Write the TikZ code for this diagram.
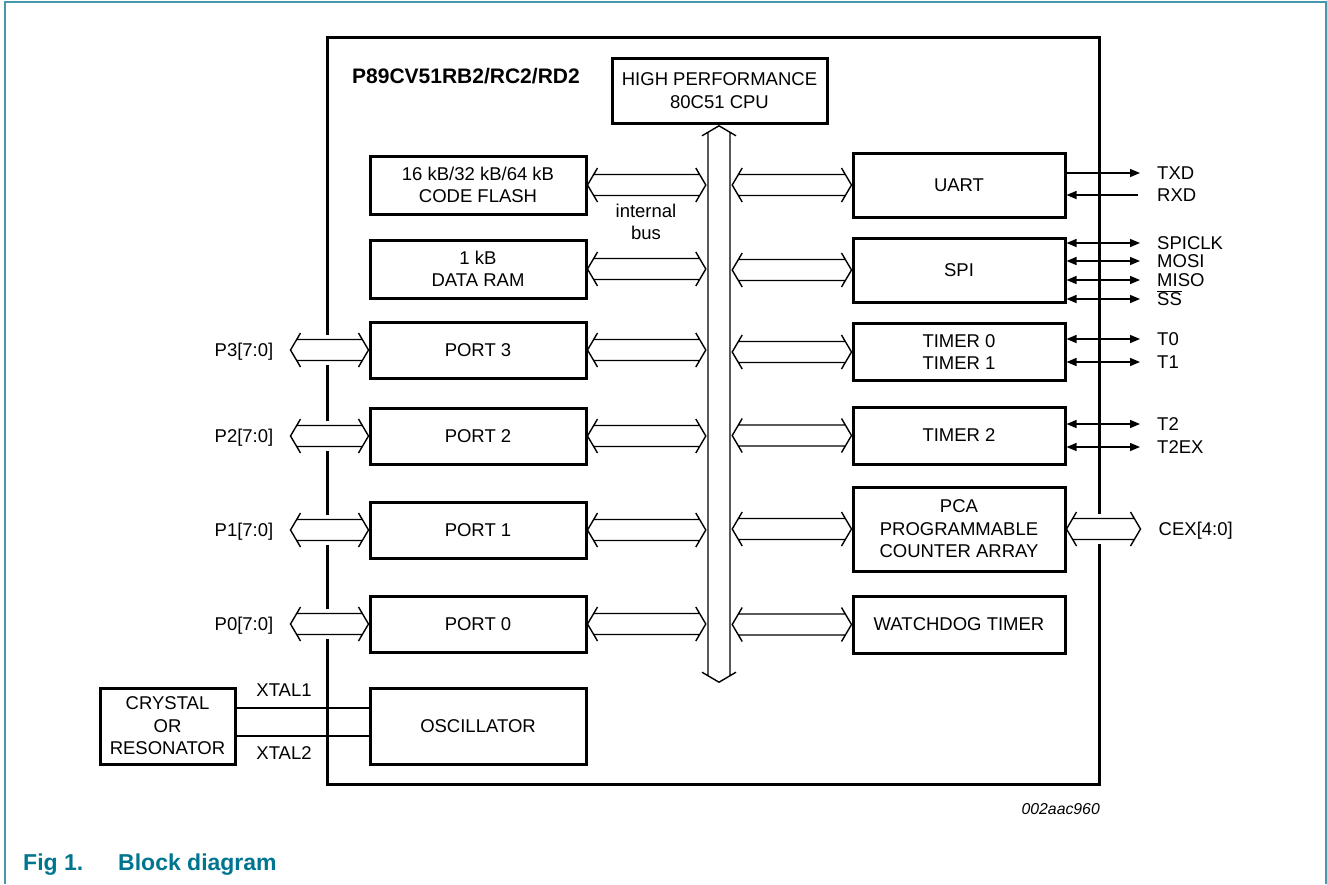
\documentclass[tikz,border=0pt]{standalone}
\usepackage{fontspec}
\setmainfont{Liberation Sans}
\usetikzlibrary{calc,arrows.meta}
\definecolor{frameteal}{RGB}{70,150,172}
\definecolor{capteal}{RGB}{0,117,143}
\newcommand\bdfont{\fontsize{18.5}{22.5}\selectfont}
\newcommand\hbus[2]{%
 \fill[white] let \p1=(#1),\p2=(#2) in (\x1+10pt,\y1+15pt) rectangle (\x2-10pt,\y1-15pt);
 \draw[busline] let \p1=(#1),\p2=(#2) in
  (\x1+10pt,\y1+17pt) -- (\x1,\y1) -- (\x1+10pt,\y1-17pt)
  (\x2-10pt,\y1+17pt) -- (\x2,\y1) -- (\x2-10pt,\y1-17pt)
  (\x1+6.2pt,\y1+10.5pt) -- (\x2-6.2pt,\y1+10.5pt)
  (\x1+6.2pt,\y1-10.5pt) -- (\x2-6.2pt,\y1-10.5pt);
}
\newcommand\vbus[2]{%
 \draw[busline] let \p1=(#1),\p2=(#2) in
  (\x1-17pt,\y1-10pt) -- (\x1,\y1) -- (\x1+17pt,\y1-10pt)
  (\x2-17pt,\y2+10pt) -- (\x2,\y2) -- (\x2+17pt,\y2+10pt)
  (\x1-11pt,\y1-6.5pt) -- (\x2-11pt,\y2+6.5pt)
  (\x1+11pt,\y1-6.5pt) -- (\x2+11pt,\y2+6.5pt);
}
\tikzset{
  box/.style={draw, line width=3pt, align=center, inner sep=0pt, font=\bdfont},
  lbl/.style={inner sep=0pt, font=\bdfont, text height=13.2pt, text depth=0pt},
  busline/.style={line width=1.4pt, line join=miter},
  pin/.style={line width=1.4pt},
  >={Triangle[length=10pt,width=8pt]}
}
\begin{document}
\begin{tikzpicture}[x=1pt,y=-1pt]
\useasboundingbox (0,0) rectangle (1327,884);
% page frame
\draw[frameteal, line width=1.5pt] (5,884) -- (5,2) -- (1326,2) -- (1326,884);
% chip outline
\node[draw, line width=3pt, minimum width=772pt, minimum height=747pt, inner sep=0pt] (chip) at (713,410.5) {};
\node[anchor=west, inner sep=0pt, font=\bfseries\fontsize{21}{25}\selectfont] (title) at (352,76) {P89CV51RB2/RC2/RD2};
% CPU and bus
\node[box, minimum width=215pt, minimum height=65pt] (cpu) at (719.5,90.5) {HIGH PERFORMANCE\\80C51 CPU};
\node[minimum width=26pt, minimum height=556pt, inner sep=0pt] (bus) at (719,404) {};
% left column
\node[box, minimum width=216pt, minimum height=58pt] (flash) at (478,185) {16 kB/32 kB/64 kB\\CODE FLASH};
\node[box, minimum width=216pt, minimum height=58pt] (ram) at (478,269) {1 kB\\DATA RAM};
\node[box, minimum width=216pt, minimum height=56pt] (port3) at (478,350) {PORT 3};
\node[box, minimum width=216pt, minimum height=56pt] (port2) at (478,436) {PORT 2};
\node[box, minimum width=216pt, minimum height=56pt] (port1) at (478,530) {PORT 1};
\node[box, minimum width=216pt, minimum height=56pt] (port0) at (478,624) {PORT 0};
\node[box, minimum width=216pt, minimum height=76pt] (osc) at (478,726) {OSCILLATOR};
\node[box, minimum width=135pt, minimum height=76pt] (crystal) at (167.5,726) {CRYSTAL\\OR\\RESONATOR};
% right column
\node[box, minimum width=212pt, minimum height=64pt] (uart) at (959,185) {UART};
\node[box, minimum width=212pt, minimum height=64pt] (spi) at (959,270) {SPI};
\node[box, minimum width=212pt, minimum height=57pt] (tim01) at (959,352) {TIMER 0\\TIMER 1};
\node[box, minimum width=212pt, minimum height=57pt] (tim2) at (959,435.5) {TIMER 2};
\node[box, minimum width=212pt, minimum height=84pt] (pca) at (959,529) {PCA\\PROGRAMMABLE\\COUNTER ARRAY};
\node[box, minimum width=212pt, minimum height=57pt] (wdt) at (959,624.5) {WATCHDOG TIMER};
% internal bus
\vbus{bus.north}{bus.south}
\hbus{flash.east}{flash.east -| bus.west}
\hbus{ram.east}{ram.east -| bus.west}
\hbus{port3.east}{port3.east -| bus.west}
\hbus{port2.east}{port2.east -| bus.west}
\hbus{port1.east}{port1.east -| bus.west}
\hbus{port0.east}{port0.east -| bus.west}
\hbus{uart.west -| bus.east}{uart.west}
\hbus{spi.west -| bus.east}{spi.west}
\hbus{tim01.west -| bus.east}{tim01.west}
\hbus{tim2.west -| bus.east}{tim2.west}
\hbus{pca.west -| bus.east}{pca.west}
\hbus{wdt.west -| bus.east}{wdt.west}
\node[inner sep=0pt, font=\bdfont, align=center] (ibus) at (646,222) {internal\\bus};
% ports
\node[lbl, anchor=east] (p3l) at ([xshift=-95pt]port3.west) {P3[7:0]};
\node[lbl, anchor=east] (p2l) at ([xshift=-95pt]port2.west) {P2[7:0]};
\node[lbl, anchor=east] (p1l) at ([xshift=-95pt]port1.west) {P1[7:0]};
\node[lbl, anchor=east] (p0l) at ([xshift=-95pt]port0.west) {P0[7:0]};
\hbus{[xshift=17pt]p3l.east}{port3.west}
\hbus{[xshift=17pt]p2l.east}{port2.west}
\hbus{[xshift=17pt]p1l.east}{port1.west}
\hbus{[xshift=17pt]p0l.east}{port0.west}
% PCA
\node[lbl, anchor=west] (cex) at ([xshift=92pt]pca.east) {CEX[4:0]};
\hbus{pca.east}{[xshift=-18pt]cex.west}
% pins
\node[lbl, anchor=west] (txd) at (1157,173) {TXD};
\node[lbl, anchor=west] (rxd) at (1157,195) {RXD};
\node[lbl, anchor=west] (spiclk) at (1157,243) {SPICLK};
\node[lbl, anchor=west] (mosi) at (1157,261) {MOSI};
\node[lbl, anchor=west] (miso) at (1157,280) {MISO};
\node[lbl, anchor=west] (ss) at (1157,299) {$\overline{\mbox{SS}}$};
\node[lbl, anchor=west] (t0) at (1157,339) {T0};
\node[lbl, anchor=west] (t1) at (1157,362) {T1};
\node[lbl, anchor=west] (t2) at (1157,424) {T2};
\node[lbl, anchor=west] (t2ex) at (1157,447) {T2EX};
\draw[pin,->] (uart.east |- txd.west) -- ([xshift=-17pt]txd.west);
\draw[pin,<-] (uart.east |- rxd.west) -- ([xshift=-19pt]rxd.west);
\draw[pin,<->] (spi.east |- spiclk.west) -- ([xshift=-17pt]spiclk.west);
\draw[pin,<->] (spi.east |- mosi.west) -- ([xshift=-17pt]mosi.west);
\draw[pin,<->] (spi.east |- miso.west) -- ([xshift=-17pt]miso.west);
\draw[pin,<->] (spi.east |- ss.west) -- ([xshift=-17pt]ss.west);
\draw[pin,<->] (tim01.east |- t0.west) -- ([xshift=-17pt]t0.west);
\draw[pin,<->] (tim01.east |- t1.west) -- ([xshift=-17pt]t1.west);
\draw[pin,<->] (tim2.east |- t2.west) -- ([xshift=-17pt]t2.west);
\draw[pin,<->] (tim2.east |- t2ex.west) -- ([xshift=-17pt]t2ex.west);
% crystal connections
\draw[pin] ($(crystal.east)+(0,-18)$) -- ($(osc.west)+(0,-18)$);
\draw[pin] ($(crystal.east)+(0,10)$) -- ($(osc.west)+(0,10)$);
\node[lbl] (x1l) at (284,690) {XTAL1};
\node[lbl] (x2l) at (284,753) {XTAL2};
% code and caption
\node[anchor=base east, inner sep=0pt, font=\itshape\fontsize{15.8}{19}\selectfont] (code) at (1100,814) {002aac960};
\node[anchor=base west, inner sep=0pt, text=capteal, font=\bfseries\fontsize{23}{28}\selectfont] (fig) at (23,870) {Fig 1.};
\node[anchor=base west, inner sep=0pt, text=capteal, font=\bfseries\fontsize{23}{28}\selectfont] (blk) at (118,870) {Block diagram};
\end{tikzpicture}
\end{document}
